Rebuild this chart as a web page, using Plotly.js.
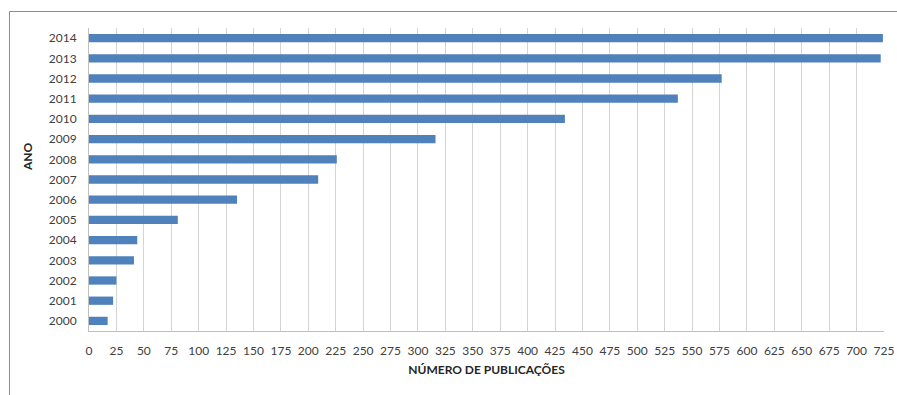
<!DOCTYPE html>
<html>
<head>
<meta charset="utf-8">
<script src="https://cdn.plot.ly/plotly-3.0.1.min.js"></script>
<style>
  html, body { margin: 0; padding: 0; background: #fff; }
  #chart { width: 897px; height: 395px; }
</style>
</head>
<body>
<div id="chart"></div>
<script>
const years = ["2000","2001","2002","2003","2004","2005","2006","2007","2008","2009","2010","2011","2012","2013","2014"];
const publications = [17, 22, 25, 41, 44, 81, 135, 209, 226, 316, 434, 537, 577, 722, 724];
const xTicks = [0,25,50,75,100,125,150,175,200,225,250,275,300,325,350,375,400,425,450,475,500,525,550,575,600,625,650,675,700,725];

const L = 89, R = 13, T = 28, B = 64, W = 897, H = 395;
const pw = W - L - R, ph = H - T - B;
const px2x = p => (p - L) / pw;
const py2y = p => (H - B - p) / ph;

const trace = {
  type: 'bar',
  orientation: 'h',
  x: publications,
  y: years,
  marker: { color: '#4F81BD' },
  hoverinfo: 'x+y'
};

const layout = {
  width: W, height: H,
  margin: { l: L, r: R, t: T, b: B, pad: 0 },
  paper_bgcolor: '#ffffff',
  plot_bgcolor: '#ffffff',
  bargap: 0.59,
  showlegend: false,
  font: { family: 'Lato, "Open Sans", sans-serif', size: 12, color: '#404040' },
  xaxis: {
    range: [0, 725],
    tickvals: xTicks,
    ticktext: xTicks.map(String),
    showgrid: true, gridcolor: '#d4d4d4', gridwidth: 1,
    zeroline: false,
    showline: true, linecolor: '#bfbfbf', linewidth: 1,
    ticks: 'outside', ticklen: 9, tickcolor: 'rgba(0,0,0,0)',
    tickfont: { size: 12, color: '#404040' },
    title: { text: 'NÚMERO DE PUBLICAÇÕES', font: { size: 12, color: '#262626', family: 'Lato, sans-serif', weight: 'bold' }, standoff: 8 },
    fixedrange: true
  },
  yaxis: {
    type: 'category',
    categoryorder: 'array', categoryarray: years,
    showgrid: false, zeroline: false,
    showline: true, linecolor: '#bfbfbf', linewidth: 1,
    ticks: 'outside', ticklen: 9, tickcolor: 'rgba(0,0,0,0)',
    tickfont: { size: 12, color: '#404040' },
    fixedrange: true
  },
  annotations: [{
    text: '<b>ANO</b>', textangle: -90,
    xref: 'paper', yref: 'paper',
    x: px2x(27), y: py2y(157),
    xanchor: 'center', yanchor: 'middle',
    showarrow: false,
    font: { size: 12, color: '#262626', family: 'Lato, sans-serif' }
  }],
  shapes: [{
    type: 'rect', xref: 'paper', yref: 'paper',
    x0: px2x(9.5), x1: px2x(W + 20),
    y0: py2y(H + 20), y1: py2y(11.5),
    line: { color: '#8c8c8c', width: 1 },
    fillcolor: 'rgba(0,0,0,0)',
    layer: 'below'
  }]
};

Plotly.newPlot('chart', [trace], layout, { displayModeBar: false, staticPlot: true });
</script>
</body>
</html>
